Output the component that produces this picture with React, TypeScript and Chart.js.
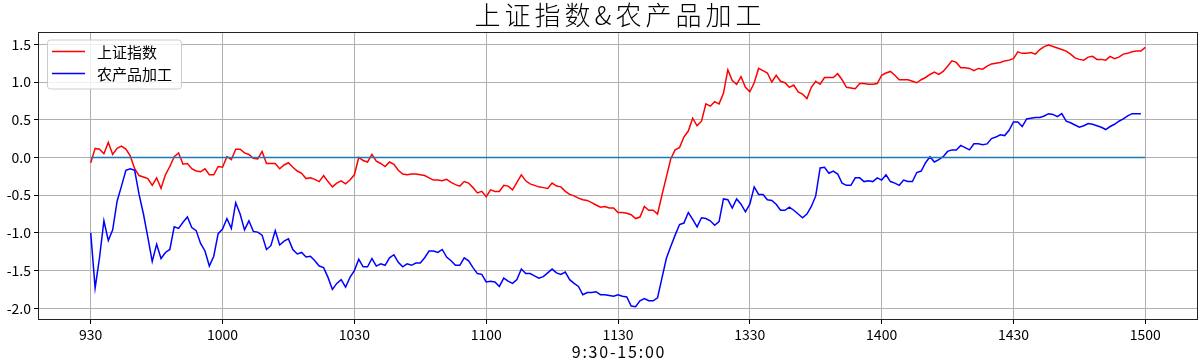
import React, { useEffect, useRef } from 'react';
import { Chart, registerables } from 'chart.js';

Chart.register(...registerables);

const TITLE = '上证指数&农产品加工';
const X_TITLE = '9:30-15:00';
const SERIES_NAMES = ['上证指数', '农产品加工'];
const SERIES_COLORS = ['#ff0000', '#0000ff'];
const ZERO_COLOR = '#1f77b4';

const TICK_POS = [0, 30, 60, 90, 120, 150, 180, 210, 240];
const TICK_LABELS = ['930', '1000', '1030', '1100', '1130', '1330', '1400', '1430', '1500'];
const Y_TICKS = [-2.0, -1.5, -1.0, -0.5, 0.0, 0.5, 1.0, 1.5];

const BASELINE_X = [0, 240];
const BASELINE_Y = [0, 0];

const shIndex = [
  -0.07, 0.12, 0.11, 0.05, 0.20, 0.04, 0.12, 0.15, 0.11, 0.02,
  -0.15, -0.24, -0.26, -0.28, -0.37, -0.27, -0.41, -0.23, -0.12, 0.01,
  0.06, -0.09, -0.08, -0.15, -0.18, -0.19, -0.15, -0.23, -0.23, -0.12,
  -0.13, 0.01, -0.03, 0.11, 0.11, 0.06, 0.04, -0.01, -0.02, 0.08,
  -0.08, -0.08, -0.08, -0.15, -0.10, -0.07, -0.13, -0.18, -0.21, -0.28,
  -0.27, -0.29, -0.32, -0.24, -0.32, -0.39, -0.34, -0.31, -0.35, -0.30,
  -0.23, 0.00, -0.04, -0.06, 0.04, -0.05, -0.08, -0.12, -0.06, -0.09,
  -0.17, -0.22, -0.23, -0.22, -0.22, -0.23, -0.24, -0.27, -0.30, -0.30,
  -0.31, -0.29, -0.33, -0.36, -0.38, -0.32, -0.34, -0.40, -0.47, -0.45,
  -0.52, -0.43, -0.45, -0.45, -0.37, -0.38, -0.43, -0.33, -0.23, -0.31,
  -0.35, -0.37, -0.39, -0.40, -0.41, -0.34, -0.38, -0.39, -0.45, -0.49,
  -0.51, -0.54, -0.56, -0.57, -0.60, -0.63, -0.66, -0.65, -0.67, -0.67,
  -0.73, -0.73, -0.74, -0.76, -0.81, -0.79, -0.65, -0.70, -0.70, -0.75,
  -0.50, -0.26, -0.02, 0.10, 0.13, 0.27, 0.35, 0.52, 0.42, 0.48,
  0.71, 0.68, 0.74, 0.71, 0.85, 1.16, 1.02, 0.97, 1.07, 0.93,
  0.87, 0.99, 1.18, 1.15, 1.12, 1.00, 1.09, 1.01, 0.99, 0.93,
  0.96, 0.87, 0.84, 0.78, 0.93, 1.01, 0.97, 1.06, 1.06, 1.06,
  1.11, 1.03, 0.93, 0.92, 0.91, 0.98, 0.98, 0.97, 0.97, 0.98,
  1.09, 1.12, 1.14, 1.09, 1.03, 1.03, 1.03, 1.01, 0.99, 1.03,
  1.06, 1.10, 1.13, 1.10, 1.14, 1.21, 1.28, 1.26, 1.19, 1.19,
  1.18, 1.15, 1.18, 1.17, 1.21, 1.24, 1.25, 1.26, 1.28, 1.29,
  1.31, 1.40, 1.38, 1.38, 1.39, 1.37, 1.43, 1.47, 1.49, 1.47,
  1.45, 1.43, 1.41, 1.37, 1.32, 1.30, 1.29, 1.33, 1.34, 1.30,
  1.30, 1.29, 1.34, 1.31, 1.33, 1.37, 1.38, 1.40, 1.41, 1.41,
  1.46,
];

const agriProc = [
  -1.00, -1.73, -1.33, -0.84, -1.10, -0.96, -0.58, -0.38, -0.17, -0.15,
  -0.17, -0.49, -0.75, -1.06, -1.38, -1.15, -1.34, -1.26, -1.22, -0.92,
  -0.94, -0.86, -0.79, -0.93, -0.97, -1.14, -1.24, -1.44, -1.31, -1.01,
  -0.95, -0.81, -0.94, -0.60, -0.75, -0.96, -0.84, -0.98, -0.99, -1.03,
  -1.22, -1.17, -0.97, -1.16, -1.11, -1.08, -1.22, -1.28, -1.26, -1.32,
  -1.31, -1.37, -1.44, -1.46, -1.59, -1.75, -1.67, -1.62, -1.72, -1.59,
  -1.50, -1.35, -1.45, -1.45, -1.34, -1.44, -1.41, -1.43, -1.33, -1.29,
  -1.39, -1.45, -1.41, -1.43, -1.40, -1.40, -1.33, -1.24, -1.24, -1.26,
  -1.22, -1.32, -1.37, -1.43, -1.43, -1.33, -1.37, -1.46, -1.54, -1.55,
  -1.65, -1.64, -1.65, -1.71, -1.60, -1.64, -1.67, -1.62, -1.48, -1.54,
  -1.54, -1.57, -1.60, -1.58, -1.53, -1.48, -1.53, -1.55, -1.52, -1.62,
  -1.67, -1.71, -1.82, -1.79, -1.79, -1.78, -1.82, -1.82, -1.83, -1.84,
  -1.82, -1.84, -1.85, -1.97, -1.98, -1.90, -1.87, -1.90, -1.90, -1.86,
  -1.60, -1.34, -1.18, -1.03, -0.89, -0.87, -0.73, -0.82, -0.92, -0.80,
  -0.81, -0.84, -0.90, -0.85, -0.55, -0.56, -0.67, -0.55, -0.62, -0.72,
  -0.62, -0.39, -0.49, -0.49, -0.56, -0.57, -0.62, -0.70, -0.70, -0.66,
  -0.70, -0.75, -0.80, -0.75, -0.65, -0.51, -0.14, -0.13, -0.21, -0.18,
  -0.22, -0.34, -0.37, -0.37, -0.27, -0.27, -0.32, -0.31, -0.32, -0.27,
  -0.30, -0.23, -0.32, -0.34, -0.37, -0.30, -0.32, -0.32, -0.20, -0.18,
  -0.07, 0.01, -0.06, -0.03, 0.01, 0.08, 0.10, 0.10, 0.16, 0.13,
  0.10, 0.18, 0.18, 0.17, 0.18, 0.25, 0.27, 0.30, 0.29, 0.36,
  0.47, 0.47, 0.41, 0.51, 0.52, 0.53, 0.53, 0.55, 0.58, 0.57,
  0.54, 0.58, 0.48, 0.46, 0.43, 0.40, 0.42, 0.45, 0.44, 0.42,
  0.40, 0.37, 0.41, 0.44, 0.48, 0.51, 0.55, 0.58, 0.58, 0.58,
];

const FONT = '"Noto Sans CJK SC", "Noto Sans", sans-serif';

const overlayPlugin = {
  id: 'overlay',
  afterDraw(chart: any) {
    const { ctx, chartArea: a } = chart;
    ctx.save();
    // spines
    const l = Math.round(a.left) + 0.5;
    const t = Math.round(a.top) + 0.5;
    const r = Math.round(a.right) - 0.5;
    const b = Math.round(a.bottom) - 0.5;
    ctx.strokeStyle = '#222';
    ctx.lineWidth = 1;
    ctx.strokeRect(l, t, r - l, b - t);

    // title
    const cx = (a.left + a.right) / 2;
    ctx.fillStyle = '#000';
    ctx.textAlign = 'center';
    ctx.textBaseline = 'middle';
    ctx.font = `300 26px ${FONT}`;
    (ctx as any).letterSpacing = '4px';
    ctx.fillText(TITLE, cx + 2, 15);
    ctx.font = `16px ${FONT}`;
    (ctx as any).letterSpacing = '1.8px';
    ctx.fillText(X_TITLE, cx + 1, 352);
    (ctx as any).letterSpacing = '0px';

    // legend
    const bx = a.left + 9;
    const by = a.top + 7.5;
    ctx.beginPath();
    (ctx as any).roundRect(bx + 0.5, by + 0.5, 134, 49, 3);
    ctx.fillStyle = 'rgba(255,255,255,0.8)';
    ctx.fill();
    ctx.strokeStyle = '#cccccc';
    ctx.lineWidth = 1;
    ctx.stroke();
    const rows = [a.top + 19.5, a.top + 41.5];
    SERIES_NAMES.forEach((name, i) => {
      ctx.beginPath();
      ctx.moveTo(a.left + 14, rows[i]);
      ctx.lineTo(a.left + 47, rows[i]);
      ctx.strokeStyle = SERIES_COLORS[i];
      ctx.lineWidth = 1.5;
      ctx.stroke();
      ctx.fillStyle = '#000';
      ctx.textAlign = 'left';
      ctx.textBaseline = 'middle';
      ctx.font = `15px ${FONT}`;
      ctx.fillText(name, a.left + 59, rows[i] + 0.5);
    });
    ctx.restore();
  },
};

export default function App() {
  const ref = useRef<HTMLCanvasElement>(null);
  useEffect(() => {
    document.body.style.margin = '0';
    const canvas = ref.current!;
    const chart = new Chart(canvas, {
      type: 'line',
      data: {
        datasets: [
          {
            label: 'zero',
            data: BASELINE_X.map((x, i) => ({ x, y: BASELINE_Y[i] })),
            borderColor: ZERO_COLOR,
            borderWidth: 1.5,
            pointRadius: 0,
            order: 0,
          },
          {
            label: SERIES_NAMES[1],
            data: agriProc.map((y, i) => ({ x: i, y })),
            borderColor: SERIES_COLORS[1],
            borderWidth: 1.5,
            pointRadius: 0,
            order: 1,
          },
          {
            label: SERIES_NAMES[0],
            data: shIndex.map((y, i) => ({ x: i, y })),
            borderColor: SERIES_COLORS[0],
            borderWidth: 1.5,
            pointRadius: 0,
            order: 2,
          },
        ],
      },
      options: {
        animation: false,
        responsive: false,
        maintainAspectRatio: false,
        layout: { padding: { top: 32, right: 2, left: 0, bottom: 0 } },
        plugins: {
          legend: { display: false },
          title: { display: false },
          tooltip: { enabled: false },
        },
        scales: {
          x: {
            type: 'linear',
            min: -12,
            max: 252,
            afterBuildTicks: (s: any) => {
              s.ticks = TICK_POS.map((v) => ({ value: v }));
            },
            afterFit: (s: any) => {
              s.height = 41;
            },
            ticks: {
              autoSkip: false,
              maxRotation: 0,
              padding: 2,
              color: '#000',
              font: { family: FONT, size: 14 },
              callback: (_v: any, idx: number) => TICK_LABELS[idx],
            },
            grid: {
              color: '#b0b0b0',
              lineWidth: 1,
              tickLength: 4,
              tickColor: '#000',
              tickWidth: 1,
            },
            border: { display: false },
          },
          y: {
            type: 'linear',
            min: -2.155,
            max: 1.663,
            afterBuildTicks: (s: any) => {
              s.ticks = Y_TICKS.map((v) => ({ value: v }));
            },
            afterFit: (s: any) => {
              s.width = 38;
            },
            ticks: {
              padding: 3,
              color: '#000',
              font: { family: FONT, size: 14 },
              callback: (v: any) => Number(v).toFixed(1),
            },
            grid: {
              color: '#b0b0b0',
              lineWidth: 1,
              tickLength: 4,
              tickColor: '#000',
              tickWidth: 1,
            },
            border: { display: false },
          },
        },
      },
      plugins: [overlayPlugin],
    });
    return () => chart.destroy();
  }, []);
  return (
    <canvas
      ref={ref}
      width={1200}
      height={361}
      style={{ display: 'block', width: 1200, height: 361 }}
    />
  );
}
